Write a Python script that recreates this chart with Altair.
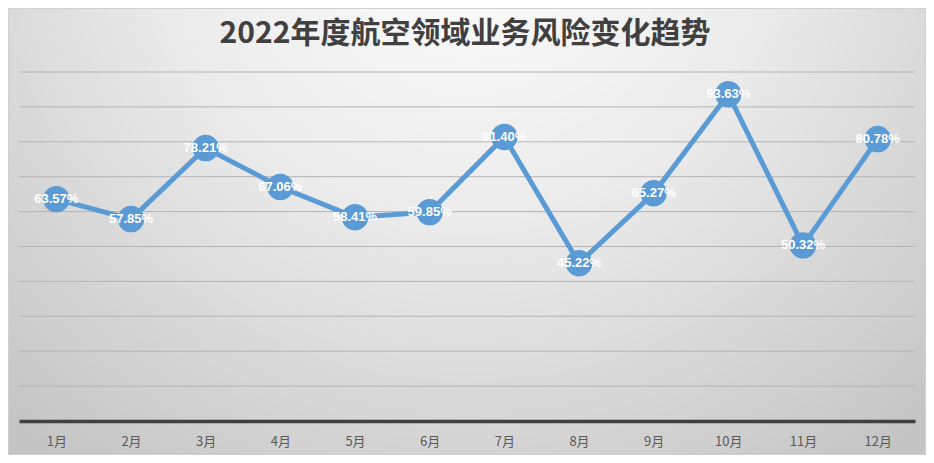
import altair as alt
import pandas as pd

months = ["1月", "2月", "3月", "4月", "5月", "6月", "7月", "8月", "9月", "10月", "11月", "12月"]
values = [63.57, 57.85, 78.21, 67.06, 58.41, 59.85, 81.40, 45.22, 65.27, 93.63, 50.32, 80.78]
labels = [f"{v:.2f}%" for v in values]
grid_values = list(range(10, 101, 10))
title_text = "2022年度航空领域业务风险变化趋势"

df = pd.DataFrame({"month": months, "value": values, "label": labels})
grid_df = pd.DataFrame({"g": grid_values})

W, H = 896, 349
PAD = {"left": 11, "right": 11, "top": 64, "bottom": 34}
BLUE = "#5b9bd5"

one = alt.Data(values=[{"a": 1}])

bg = alt.Chart(one).mark_rect(
    color=alt.Gradient(
        gradient="radial",
        stops=[alt.GradientStop(color="#ffffff", offset=0),
               alt.GradientStop(color="#ebebeb", offset=0.45),
               alt.GradientStop(color="#c4c4c4", offset=1)],
        x1=0.5, y1=0.15, r1=0, x2=0.5, y2=0.15, r2=0.75,
    ),
    stroke="#d0d0d0", strokeWidth=1,
).encode(
    x=alt.value(-PAD["left"] + 0.5), x2=alt.value(W + PAD["right"] - 0.5),
    y=alt.value(-PAD["top"] + 0.5), y2=alt.value(H + PAD["bottom"] - 0.5),
)

title = alt.Chart(one).mark_text(
    text=title_text, font="Noto Sans CJK SC", fontSize=30, fontWeight="bold",
    color="#404040", align="center", baseline="middle",
).encode(x=alt.value(W / 2 - 2), y=alt.value(-38))

yscale = alt.Scale(domain=[0, 100], nice=False)

grid = alt.Chart(grid_df).mark_rule(color="#b4b4b4", strokeWidth=1).encode(
    y=alt.Y("g:Q", scale=yscale, axis=None),
)

x = alt.X("month:N", sort=months, title=None,
          scale=alt.Scale(padding=0.5),
          axis=alt.Axis(labelAngle=0, ticks=False, domain=True, domainColor="#404040",
                        domainWidth=3.5, labelColor="#595959", labelFontSize=13,
                        labelFont="Noto Sans CJK SC", labelPadding=14, grid=False, zindex=1))
y = alt.Y("value:Q", title=None, scale=yscale, axis=None)

base = alt.Chart(df)
line = base.mark_line(color=BLUE, strokeWidth=5).encode(x=x, y=y)
pts = base.mark_circle(color=BLUE, opacity=1, size=700).encode(x=x, y=y)
txt = base.mark_text(color="white", font="Liberation Sans", fontWeight="bold", fontSize=13,
                     baseline="middle", align="center").encode(x=x, y=y, text="label:N")

chart = alt.layer(bg, title, grid, line, pts, txt).properties(
    width=W, height=H,
    padding=PAD,
    autosize=alt.AutoSizeParams(type="none"),
).configure_view(stroke=None).configure(background="white")

chart.save("out.html", embed_options={"renderer": "svg", "actions": False})
